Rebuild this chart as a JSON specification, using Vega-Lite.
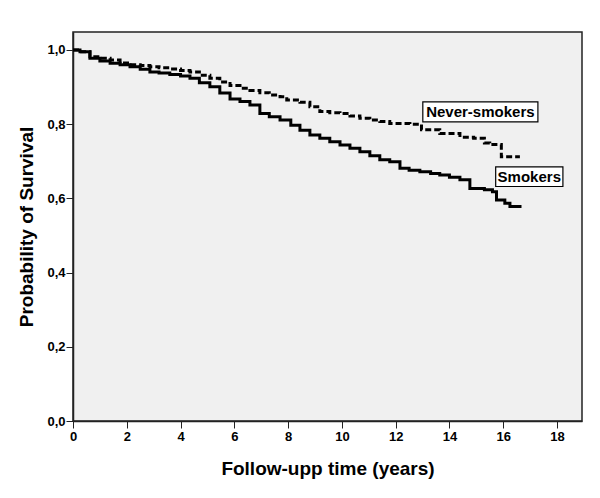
{
  "$schema": "https://vega.github.io/schema/vega-lite/v6.json",
  "width": 509,
  "height": 389,
  "autosize": {"type": "none"},
  "padding": {"left": 73, "top": 32, "right": 18, "bottom": 77},
  "background": "white",
  "config": {
    "view": {"fill": "#F0F0F0", "stroke": "#222222", "strokeWidth": 1.5},
    "font": "Liberation Sans"
  },
  "datasets": {
    "curves": [
      {"group": "Smokers", "t": 0, "s": 1.0},
      {"group": "Smokers", "t": 0.26, "s": 0.995},
      {"group": "Smokers", "t": 0.63, "s": 0.978},
      {"group": "Smokers", "t": 1.0, "s": 0.97},
      {"group": "Smokers", "t": 1.38, "s": 0.964},
      {"group": "Smokers", "t": 1.75, "s": 0.96},
      {"group": "Smokers", "t": 2.12, "s": 0.955},
      {"group": "Smokers", "t": 2.5, "s": 0.948},
      {"group": "Smokers", "t": 2.86, "s": 0.941},
      {"group": "Smokers", "t": 3.2, "s": 0.938},
      {"group": "Smokers", "t": 3.6, "s": 0.934},
      {"group": "Smokers", "t": 4.0, "s": 0.93},
      {"group": "Smokers", "t": 4.35, "s": 0.924},
      {"group": "Smokers", "t": 4.7, "s": 0.912},
      {"group": "Smokers", "t": 5.09, "s": 0.901},
      {"group": "Smokers", "t": 5.46, "s": 0.884},
      {"group": "Smokers", "t": 5.84, "s": 0.868},
      {"group": "Smokers", "t": 6.21, "s": 0.861},
      {"group": "Smokers", "t": 6.58, "s": 0.852},
      {"group": "Smokers", "t": 6.95, "s": 0.829},
      {"group": "Smokers", "t": 7.3, "s": 0.82},
      {"group": "Smokers", "t": 7.7, "s": 0.811},
      {"group": "Smokers", "t": 8.1, "s": 0.797},
      {"group": "Smokers", "t": 8.44, "s": 0.784},
      {"group": "Smokers", "t": 8.81, "s": 0.771},
      {"group": "Smokers", "t": 9.18, "s": 0.762},
      {"group": "Smokers", "t": 9.55, "s": 0.753},
      {"group": "Smokers", "t": 9.93, "s": 0.744},
      {"group": "Smokers", "t": 10.3, "s": 0.735},
      {"group": "Smokers", "t": 10.67, "s": 0.726},
      {"group": "Smokers", "t": 11.04, "s": 0.715},
      {"group": "Smokers", "t": 11.41, "s": 0.704},
      {"group": "Smokers", "t": 11.78, "s": 0.699},
      {"group": "Smokers", "t": 12.16, "s": 0.681},
      {"group": "Smokers", "t": 12.5, "s": 0.676},
      {"group": "Smokers", "t": 12.9, "s": 0.672},
      {"group": "Smokers", "t": 13.3, "s": 0.667},
      {"group": "Smokers", "t": 13.64, "s": 0.663},
      {"group": "Smokers", "t": 14.0, "s": 0.657},
      {"group": "Smokers", "t": 14.39, "s": 0.65},
      {"group": "Smokers", "t": 14.76, "s": 0.627},
      {"group": "Smokers", "t": 15.3, "s": 0.623},
      {"group": "Smokers", "t": 15.6, "s": 0.618},
      {"group": "Smokers", "t": 15.75, "s": 0.596},
      {"group": "Smokers", "t": 16.06, "s": 0.587},
      {"group": "Smokers", "t": 16.25, "s": 0.578},
      {"group": "Smokers", "t": 16.68, "s": 0.578},
      {"group": "Never-smokers", "t": 0, "s": 1.0},
      {"group": "Never-smokers", "t": 0.26, "s": 0.995},
      {"group": "Never-smokers", "t": 0.63, "s": 0.982},
      {"group": "Never-smokers", "t": 1.0, "s": 0.978},
      {"group": "Never-smokers", "t": 1.38, "s": 0.973},
      {"group": "Never-smokers", "t": 1.75, "s": 0.965},
      {"group": "Never-smokers", "t": 2.12, "s": 0.96},
      {"group": "Never-smokers", "t": 2.5, "s": 0.958},
      {"group": "Never-smokers", "t": 2.86, "s": 0.955},
      {"group": "Never-smokers", "t": 3.2, "s": 0.952},
      {"group": "Never-smokers", "t": 3.6, "s": 0.949},
      {"group": "Never-smokers", "t": 4.0, "s": 0.945},
      {"group": "Never-smokers", "t": 4.35, "s": 0.941},
      {"group": "Never-smokers", "t": 4.7, "s": 0.932},
      {"group": "Never-smokers", "t": 5.09, "s": 0.924},
      {"group": "Never-smokers", "t": 5.46, "s": 0.914},
      {"group": "Never-smokers", "t": 5.84, "s": 0.904},
      {"group": "Never-smokers", "t": 6.21, "s": 0.897},
      {"group": "Never-smokers", "t": 6.58, "s": 0.891},
      {"group": "Never-smokers", "t": 6.95, "s": 0.885},
      {"group": "Never-smokers", "t": 7.3, "s": 0.879},
      {"group": "Never-smokers", "t": 7.7, "s": 0.874},
      {"group": "Never-smokers", "t": 7.95, "s": 0.865},
      {"group": "Never-smokers", "t": 8.44, "s": 0.859},
      {"group": "Never-smokers", "t": 8.81, "s": 0.847},
      {"group": "Never-smokers", "t": 9.18, "s": 0.834},
      {"group": "Never-smokers", "t": 9.55, "s": 0.831},
      {"group": "Never-smokers", "t": 9.93, "s": 0.829},
      {"group": "Never-smokers", "t": 10.3, "s": 0.822},
      {"group": "Never-smokers", "t": 10.67, "s": 0.816},
      {"group": "Never-smokers", "t": 11.04, "s": 0.811},
      {"group": "Never-smokers", "t": 11.41, "s": 0.807},
      {"group": "Never-smokers", "t": 11.78, "s": 0.802},
      {"group": "Never-smokers", "t": 12.53, "s": 0.8},
      {"group": "Never-smokers", "t": 12.96, "s": 0.785},
      {"group": "Never-smokers", "t": 13.64, "s": 0.775},
      {"group": "Never-smokers", "t": 14.39, "s": 0.765},
      {"group": "Never-smokers", "t": 14.9, "s": 0.762},
      {"group": "Never-smokers", "t": 15.3, "s": 0.749},
      {"group": "Never-smokers", "t": 15.5, "s": 0.745},
      {"group": "Never-smokers", "t": 15.93, "s": 0.712},
      {"group": "Never-smokers", "t": 16.62, "s": 0.712}
    ],
    "labels": [
      {"label": "Never-smokers", "x1": 13.01, "x2": 17.29, "y1": 0.806, "y2": 0.86, "tx": 15.15, "ty": 0.833},
      {"label": "Smokers", "x1": 15.72, "x2": 18.22, "y1": 0.632, "y2": 0.685, "tx": 16.97, "ty": 0.658}
    ]
  },
  "encoding": {
    "x": {
      "type": "quantitative",
      "scale": {"domain": [0, 18.93], "nice": false, "zero": false},
      "axis": {
        "title": "Follow-upp time (years)",
        "values": [0, 2, 4, 6, 8, 10, 12, 14, 16, 18],
        "grid": false,
        "domainColor": "#222222",
        "domainWidth": 1.5,
        "tickColor": "#222222",
        "tickSize": 7,
        "labelFont": "Liberation Sans",
        "labelFontWeight": "bold",
        "labelFontSize": 13,
        "labelColor": "black",
        "labelPadding": 2,
        "labelFlush": false,
        "titleFont": "Liberation Sans",
        "titleFontWeight": "bold",
        "titleFontSize": 19,
        "titleColor": "black",
        "titlePadding": 16
      }
    },
    "y": {
      "type": "quantitative",
      "scale": {"domain": [0, 1.0485], "nice": false, "zero": false},
      "axis": {
        "title": "Probability of Survival",
        "values": [0, 0.2, 0.4, 0.6, 0.8, 1.0],
        "labelExpr": "replace(format(datum.value, '.1f'), '.', ',')",
        "grid": false,
        "domainColor": "#222222",
        "domainWidth": 1.5,
        "tickColor": "#222222",
        "tickSize": 7,
        "labelFont": "Liberation Sans",
        "labelFontWeight": "bold",
        "labelFontSize": 13,
        "labelColor": "black",
        "labelPadding": 1,
        "labelFlush": false,
        "titleFont": "Liberation Sans",
        "titleFontWeight": "bold",
        "titleFontSize": 19,
        "titleColor": "black",
        "titlePadding": 10
      }
    }
  },
  "layer": [
    {
      "data": {"name": "curves"},
      "transform": [{"filter": "datum.group === 'Never-smokers'"}],
      "mark": {"type": "line", "interpolate": "step-after", "color": "black", "strokeWidth": 3, "strokeDash": [6, 3]},
      "encoding": {"x": {"field": "t", "type": "quantitative"}, "y": {"field": "s", "type": "quantitative"}}
    },
    {
      "data": {"name": "curves"},
      "transform": [{"filter": "datum.group === 'Smokers'"}],
      "mark": {"type": "line", "interpolate": "step-after", "color": "black", "strokeWidth": 3},
      "encoding": {"x": {"field": "t", "type": "quantitative"}, "y": {"field": "s", "type": "quantitative"}}
    },
    {
      "data": {"name": "labels"},
      "mark": {"type": "rect", "fill": "white", "stroke": "black", "strokeWidth": 1.2},
      "encoding": {
        "x": {"field": "x1", "type": "quantitative"},
        "x2": {"field": "x2"},
        "y": {"field": "y1", "type": "quantitative"},
        "y2": {"field": "y2"}
      }
    },
    {
      "data": {"name": "labels"},
      "mark": {"type": "text", "font": "Liberation Sans", "fontWeight": "bold", "fontSize": 15, "color": "black", "align": "center", "baseline": "middle"},
      "encoding": {
        "x": {"field": "tx", "type": "quantitative"},
        "y": {"field": "ty", "type": "quantitative"},
        "text": {"field": "label"}
      }
    }
  ]
}
